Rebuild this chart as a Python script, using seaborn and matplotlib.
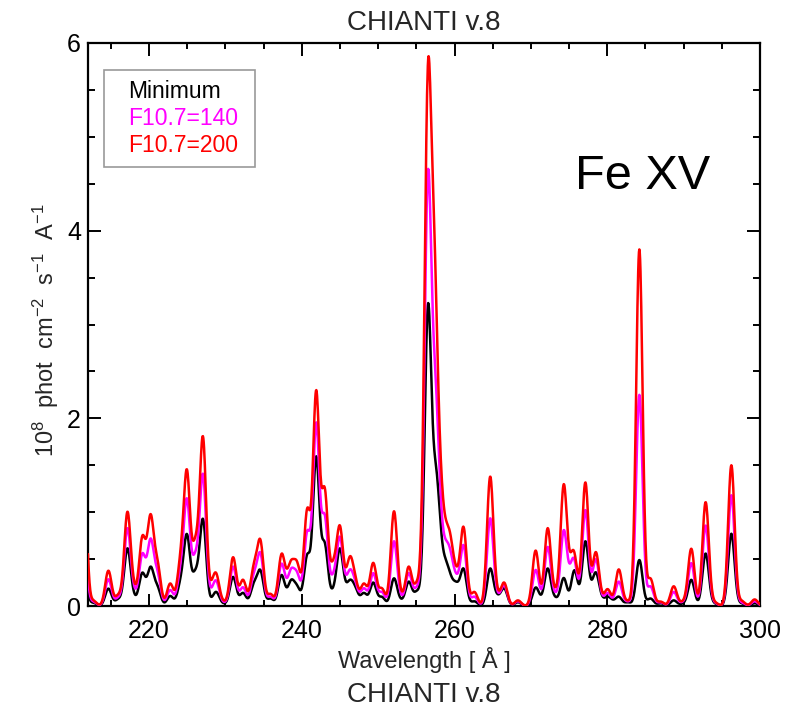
import numpy as np
import pandas as pd
import matplotlib
matplotlib.use("Agg")
import matplotlib.pyplot as plt
import seaborn as sns
from matplotlib.patches import Rectangle
from matplotlib.ticker import MultipleLocator

# Spectral features: centre wavelength (Angstrom) and the flux reached there
# (units of 1e8 phot cm-2 s-1 A-1) for each solar-activity level.
line_wl = [211.32, 212.70, 214.67, 215.98, 217.16, 217.99, 219.10, 219.60, 220.20, 221.10,
           222.76, 224.10, 224.95, 226.05, 227.05, 228.20, 228.80, 229.80, 231.00, 232.30,
           233.70, 234.57, 235.90, 237.33, 238.00, 238.60, 239.40, 240.70, 241.88, 242.50,
           243.00, 244.10, 244.98, 245.70, 246.30, 247.00, 248.13, 249.35, 250.50, 252.07,
           253.00, 254.00, 255.10, 256.13, 256.53, 256.84, 257.28, 257.67, 258.20, 258.85,
           259.45, 260.20, 261.17, 262.60, 264.67, 265.60, 266.50, 268.30, 269.80, 270.62,
           271.30, 272.20, 273.20, 274.30, 275.20, 275.70, 276.40, 277.13, 278.00, 278.50,
           279.20, 280.05, 280.70, 281.51, 282.70, 284.20, 285.66, 287.00, 288.70, 289.90,
           291.00, 291.90, 292.88, 294.10, 296.25, 297.60, 299.30]

flux_200 = [2.00, 0.064, 0.376, 0.13, 1.005, 0.295, 0.746, 0.72, 0.98, 0.50,
            0.24, 0.59, 1.457, 0.74, 1.81, 0.28, 0.35, 0.06, 0.52, 0.28,
            0.45, 0.71, 0.13, 0.555, 0.40, 0.49, 0.47, 1.04, 2.36, 1.16,
            1.35, 0.49, 0.86, 0.42, 0.53, 0.33, 0.24, 0.46, 0.19, 1.01,
            0.18, 0.42, 0.28, 3.72, 6.05, 5.18, 4.40, 2.94, 1.60, 0.92,
            0.77, 0.43, 0.845, 0.15, 1.38, 0.22, 0.25, 0.06, 0.03, 0.60,
            0.24, 0.83, 0.20, 1.30, 0.56, 0.60, 0.31, 1.34, 0.42, 0.58,
            0.20, 0.18, 0.12, 0.39, 0.06, 3.80, 0.295, 0.047, 0.21, 0.06,
            0.615, 0.09, 1.11, 0.05, 1.50, 0.06, 0.07]

flux_140 = [1.15, 0.05, 0.285, 0.10, 0.83, 0.24, 0.56, 0.52, 0.72, 0.38,
            0.17, 0.45, 1.148, 0.58, 1.41, 0.20, 0.27, 0.045, 0.42, 0.20,
            0.35, 0.57, 0.10, 0.45, 0.30, 0.40, 0.36, 0.80, 2.02, 0.90,
            1.07, 0.35, 0.74, 0.35, 0.39, 0.27, 0.19, 0.35, 0.15, 0.69,
            0.13, 0.35, 0.22, 3.00, 4.88, 3.83, 3.01, 2.10, 1.20, 0.70,
            0.60, 0.35, 0.65, 0.10, 0.935, 0.17, 0.22, 0.05, 0.02, 0.39,
            0.18, 0.63, 0.15, 0.81, 0.45, 0.52, 0.25, 1.04, 0.36, 0.50,
            0.17, 0.14, 0.09, 0.26, 0.05, 2.25, 0.21, 0.04, 0.15, 0.05,
            0.46, 0.07, 0.86, 0.04, 1.18, 0.04, 0.05]

flux_min = [0.60, 0.035, 0.185, 0.08, 0.615, 0.16, 0.355, 0.31, 0.42, 0.22,
            0.107, 0.30, 0.768, 0.39, 0.93, 0.098, 0.15, 0.03, 0.31, 0.14,
            0.25, 0.385, 0.08, 0.33, 0.20, 0.28, 0.22, 0.55, 1.65, 0.67,
            0.76, 0.20, 0.615, 0.28, 0.28, 0.21, 0.14, 0.25, 0.098, 0.295,
            0.08, 0.26, 0.17, 2.00, 3.44, 2.50, 1.90, 1.34, 0.88, 0.49,
            0.35, 0.26, 0.40, 0.05, 0.40, 0.13, 0.19, 0.04, 0.01, 0.20,
            0.12, 0.40, 0.10, 0.30, 0.20, 0.40, 0.20, 0.70, 0.28, 0.36,
            0.14, 0.10, 0.07, 0.10, 0.04, 0.49, 0.08, 0.03, 0.06, 0.03,
            0.28, 0.05, 0.56, 0.03, 0.77, 0.03, 0.03]

series_names = ["Minimum", "F10.7=140", "F10.7=200"]
series_flux = [flux_min, flux_140, flux_200]
series_colors = ["#000000", "#ff00ff", "#ff0000"]

# Gaussian instrumental profile (Angstrom)
INSTR_SIGMA = 0.42


def profile(grid, centres):
    d = (np.asarray(grid)[:, None] - np.asarray(centres)[None, :]) / INSTR_SIGMA
    return np.exp(-0.5 * d * d)


def line_strengths(centres, heights, n_iter=3000):
    """Non-negative line intensities whose blended profile reaches the given heights
    (coordinate-descent non-negative least squares)."""
    centres = np.asarray(centres, float)
    b = np.asarray(heights, float)
    A = profile(centres, centres)
    x = b.copy()
    col_norm = (A * A).sum(axis=0)
    r = b - A @ x
    for _ in range(n_iter):
        for j in range(len(x)):
            new = max(0.0, x[j] + A[:, j] @ r / col_norm[j])
            if new != x[j]:
                r -= A[:, j] * (new - x[j])
                x[j] = new
    return x


wave = np.arange(212.0, 300.001, 0.05)
frames = []
for name, flux in zip(series_names, series_flux):
    amp = line_strengths(line_wl, flux)
    spec = profile(wave, line_wl) @ amp
    frames.append(pd.DataFrame({"wavelength": wave, "flux": spec, "series": name}))
df = pd.concat(frames, ignore_index=True)

sns.set_style("ticks")
plt.rcParams["font.family"] = ["Liberation Sans", "DejaVu Sans"]
plt.rcParams["mathtext.fontset"] = "custom"
plt.rcParams["mathtext.rm"] = "Liberation Sans"
plt.rcParams["mathtext.it"] = "Liberation Sans"

fig = plt.figure(figsize=(7.94, 7.14), dpi=100)
ax = fig.add_axes([88 / 794, 1 - 606 / 714, 672 / 794, 563 / 714])

sns.lineplot(data=df, x="wavelength", y="flux", hue="series",
             hue_order=series_names, palette=series_colors,
             estimator=None, sort=False, linewidth=1.8, legend=False,
             zorder=3, ax=ax)

ax.set_xlim(212, 300)
ax.set_ylim(0, 6)
ax.xaxis.set_major_locator(MultipleLocator(20))
ax.xaxis.set_minor_locator(MultipleLocator(5))
ax.yaxis.set_major_locator(MultipleLocator(2))
ax.yaxis.set_minor_locator(MultipleLocator(0.5))
ax.tick_params(which="both", direction="in", top=True, right=True,
               width=1.4, colors="black", labelsize=18)
ax.tick_params(axis="x", which="major", length=9, pad=9)
ax.tick_params(axis="x", which="minor", length=4.5)
ax.tick_params(axis="y", which="major", length=9.5, pad=5)
ax.tick_params(axis="y", which="minor", length=5)
for s in ax.spines.values():
    s.set_linewidth(1.6)
    s.set_color("black")

ax.set_xlabel("Wavelength [ Å ]", fontsize=17, labelpad=3)
ax.set_ylabel(r"$10^8$  phot  cm$^{-2}$  s$^{-1}$  A$^{-1}$", fontsize=17)
ax.yaxis.set_label_coords(-0.040, 0.49)
ax.set_title("CHIANTI v.8", fontsize=20, pad=9)
fig.text(424 / 794, 1 - 695 / 714, "CHIANTI v.8", ha="center", va="center", fontsize=20)

# legend box
ax.add_patch(Rectangle((0.024, 0.78), 0.2245, 0.172, transform=ax.transAxes,
                       fill=False, edgecolor="#999999", linewidth=1.2))
for i, (name, col) in enumerate(zip(series_names, series_colors)):
    ax.text(0.06, 0.914 - i * 0.048, name, color=col, fontsize=16.5,
            transform=ax.transAxes, ha="left", va="center")

ax.text(0.725, 0.762, "Fe XV", fontsize=35, transform=ax.transAxes,
        ha="left", va="center", color="black")

fig.savefig("out.png", dpi=100)
